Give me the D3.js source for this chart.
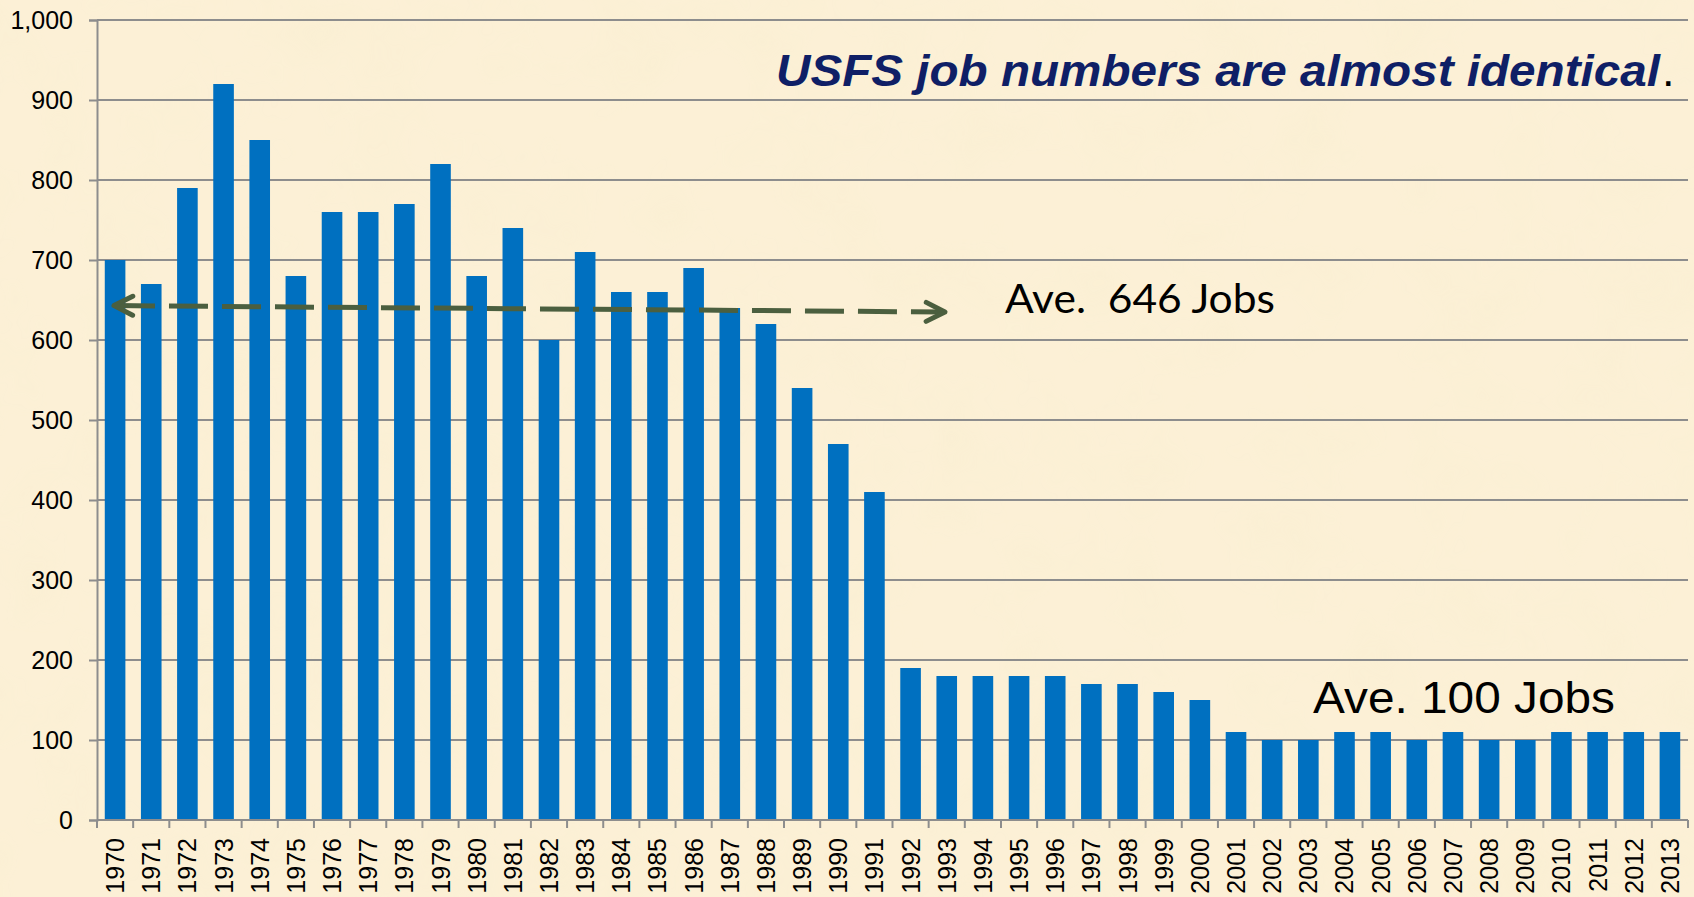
<!DOCTYPE html>
<html>
<head>
<meta charset="utf-8">
<script src="https://cdn.jsdelivr.net/npm/d3@7"></script>
<style>
  html, body { margin: 0; padding: 0; background: #fcf0d6; }
  svg { display: block; }
</style>
</head>
<body>
<svg id="chart" width="1694" height="897"></svg>
<script>
// ---- data ----
const years = ["1970","1971","1972","1973","1974","1975","1976","1977","1978","1979",
  "1980","1981","1982","1983","1984","1985","1986","1987","1988","1989",
  "1990","1991","1992","1993","1994","1995","1996","1997","1998","1999",
  "2000","2001","2002","2003","2004","2005","2006","2007","2008","2009",
  "2010","2011","2012","2013"];
const jobs = [700,670,790,920,850,680,760,760,770,820,
  680,740,600,710,660,660,690,640,620,540,
  470,410,190,180,180,180,180,170,170,160,
  150,110,100,100,110,110,100,110,100,100,
  110,110,110,110];
const yTicks = [0,100,200,300,400,500,600,700,800,900,1000];
const titleText = "USFS job numbers are almost identical";
const avgHighLabel = "Ave.  646 Jobs";
const avgLowLabel = "Ave. 100 Jobs";
// arrow endpoints in data units (band index offset, value)
const arrowFrom = [0.47, 643];
const arrowTo = [23.45, 635];

// ---- layout ----
const W = 1694, H = 897;
const pL = 97, pR = 1688, pT = 20, pB = 820;
const svg = d3.select("#chart");

// background with subtle parchment texture
const defs = svg.append("defs");
const f = defs.append("filter").attr("id", "paper").attr("x", 0).attr("y", 0).attr("width", "100%").attr("height", "100%");
f.append("feTurbulence").attr("type", "fractalNoise").attr("baseFrequency", "0.012").attr("numOctaves", 3).attr("seed", 7).attr("result", "n");
f.append("feColorMatrix").attr("in", "n").attr("type", "matrix")
  .attr("values", "0 0 0 0 0.93  0 0 0 0 0.86  0 0 0 0 0.62  0 0 0 -1.6 0.9");
svg.append("rect").attr("width", W).attr("height", H).attr("fill", "#fcf0d6");
svg.append("rect").attr("width", W).attr("height", H).attr("filter", "url(#paper)").attr("opacity", 0.4);

const x = d3.scaleBand().domain(years).range([pL, pR]).paddingInner(0.43).paddingOuter(0.215);
const y = d3.scaleLinear().domain([0, 1000]).range([pB, pT]);
const step = x.step();
const xi = i => pL + i * step;

const font = "'Liberation Sans', Arial, sans-serif";
const gridColor = "#8d8d8d";

// gridlines
svg.append("g").selectAll("line").data(yTicks.filter(d => d > 0)).join("line")
  .attr("x1", pL).attr("x2", pR)
  .attr("y1", d => y(d)).attr("y2", d => y(d))
  .attr("stroke", gridColor).attr("stroke-width", 2);

// y axis
const yAxis = svg.append("g").attr("transform", `translate(${pL},0)`)
  .call(d3.axisLeft(y).tickValues(yTicks).tickSize(8).tickPadding(16).tickFormat(d3.format(",")));
yAxis.select(".domain").attr("stroke", gridColor).attr("stroke-width", 2);
yAxis.selectAll(".tick line").attr("stroke", gridColor).attr("stroke-width", 2);
yAxis.selectAll("text").attr("font-family", font).attr("font-size", 25).attr("fill", "#000");

// bars
svg.append("g").selectAll("rect").data(years).join("rect")
  .attr("x", d => x(d))
  .attr("width", x.bandwidth())
  .attr("y", (d, i) => y(jobs[i]))
  .attr("height", (d, i) => y(0) - y(jobs[i]))
  .attr("fill", "#0070c0");

// x axis
const xAxisG = svg.append("g");
xAxisG.append("line").attr("x1", pL).attr("x2", pR).attr("y1", pB).attr("y2", pB)
  .attr("stroke", gridColor).attr("stroke-width", 2);
xAxisG.selectAll("line.tk").data(d3.range(years.length + 1)).join("line").attr("class", "tk")
  .attr("x1", i => xi(i)).attr("x2", i => xi(i))
  .attr("y1", pB).attr("y2", pB + 8)
  .attr("stroke", gridColor).attr("stroke-width", 2);
xAxisG.selectAll("text").data(years).join("text")
  .attr("transform", d => `translate(${x(d) + x.bandwidth() / 2},${pB + 18}) rotate(-90)`)
  .attr("text-anchor", "end").attr("dy", "0.36em")
  .attr("font-family", font).attr("font-size", 25).attr("fill", "#000")
  .text(d => d);

// title
svg.append("text").attr("x", 776).attr("y", 86)
  .attr("font-family", font).attr("font-size", 45).attr("font-weight", "bold").attr("font-style", "italic")
  .attr("fill", "#0f1f66").attr("textLength", 884).attr("lengthAdjust", "spacingAndGlyphs")
  .text(titleText);
svg.append("text").attr("x", 1662).attr("y", 86)
  .attr("font-family", font).attr("font-size", 45).attr("fill", "#000").text(".");

// average annotations
svg.append("text").attr("x", 1005).attr("y", 313)
  .attr("font-family", "Lato, 'Open Sans', sans-serif").attr("font-size", 41).attr("fill", "#000")
  .attr("textLength", 270).attr("lengthAdjust", "spacingAndGlyphs")
  .style("white-space", "pre")
  .text(avgHighLabel);
svg.append("text").attr("x", 1313).attr("y", 713)
  .attr("font-family", font).attr("font-size", 45).attr("fill", "#000")
  .attr("textLength", 302).attr("lengthAdjust", "spacingAndGlyphs")
  .text(avgLowLabel);

// dashed double arrow
const ax1 = xi(arrowFrom[0]), ay1 = y(arrowFrom[1]);
const ax2 = xi(arrowTo[0]), ay2 = y(arrowTo[1]);
const arrowColor = "#4b5f3f";
svg.append("line").attr("x1", ax1 + 2).attr("y1", ay1).attr("x2", ax2 - 2).attr("y2", ay2)
  .attr("stroke", arrowColor).attr("stroke-width", 5).attr("stroke-dasharray", "39,14");
const ang = Math.atan2(ay2 - ay1, ax2 - ax1);
function head(tx, ty, dir) {
  const L = 21, a = 0.47;
  const p = [];
  [a, -a].forEach(s => {
    const t = ang + (dir > 0 ? Math.PI : 0) + s;
    p.push([tx + L * Math.cos(t), ty + L * Math.sin(t)]);
  });
  svg.append("path")
    .attr("d", `M${p[0][0]},${p[0][1]} L${tx},${ty} L${p[1][0]},${p[1][1]}`)
    .attr("fill", "none").attr("stroke", arrowColor).attr("stroke-width", 5)
    .attr("stroke-linecap", "round").attr("stroke-linejoin", "round");
}
head(ax1, ay1, -1);
head(ax2, ay2, 1);
</script>
</body>
</html>
